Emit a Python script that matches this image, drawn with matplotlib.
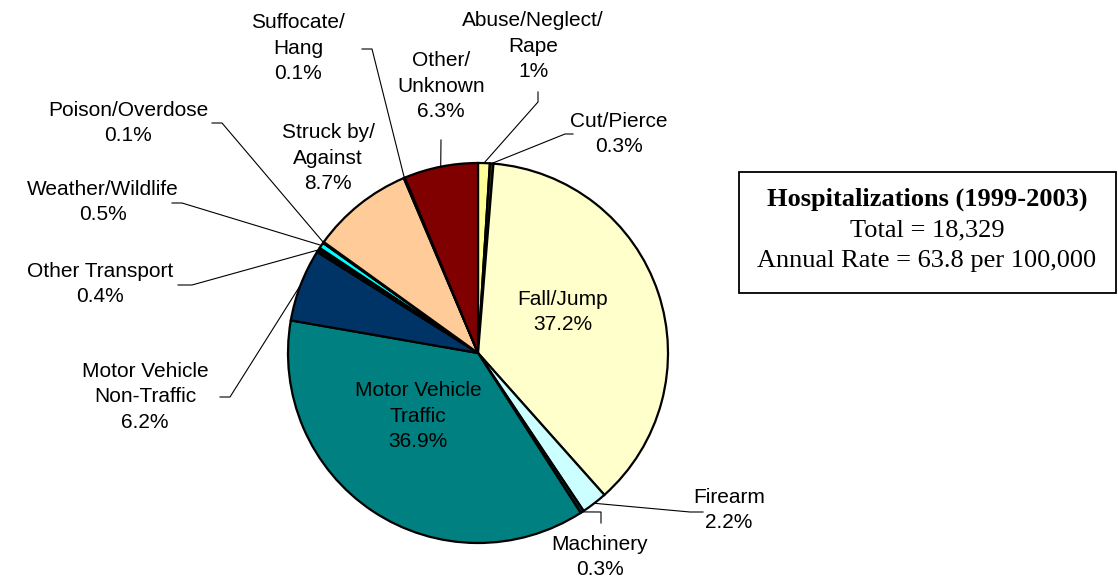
import numpy as np
import matplotlib
matplotlib.use('Agg')
import matplotlib.pyplot as plt
from matplotlib.patches import Rectangle

# data (clockwise from 12 o'clock)
categories = ['Abuse/Neglect/\nRape', 'Cut/Pierce', 'Fall/Jump', 'Firearm', 'Machinery',
              'Motor Vehicle\nTraffic', 'Motor Vehicle\nNon-Traffic', 'Other Transport',
              'Weather/Wildlife', 'Poison/Overdose', 'Struck by/\nAgainst', 'Suffocate/\nHang',
              'Other/\nUnknown']
percents = [1, 0.3, 37.2, 2.2, 0.3, 36.9, 6.2, 0.4, 0.5, 0.1, 8.7, 0.1, 6.3]
pct_labels = ['1%', '0.3%', '37.2%', '2.2%', '0.3%', '36.9%', '6.2%', '0.4%',
              '0.5%', '0.1%', '8.7%', '0.1%', '6.3%']
colors = ['#FFFF99', '#333300', '#FFFFCC', '#CCFFFF', '#003333', '#008080', '#003366',
          '#000000', '#00FFFF', '#996600', '#FFCC99', '#993300', '#800000']

W, H = 1118, 581
fig = plt.figure(figsize=(W / 100, H / 100), dpi=100)
ax = fig.add_axes([0, 0, 1, 1])

cx, cy, R = 478, H - 353, 190
ax.pie(percents, colors=colors, startangle=90, counterclock=False,
       center=(cx, cy), radius=R,
       wedgeprops=dict(edgecolor='black', linewidth=1.6))
ax.set_xlim(0, W)
ax.set_ylim(0, H)
ax.set_aspect('equal')
ax.axis('off')

def Y(y):
    return H - y

# label text position (pixel coords) and leader line bends, None = no leader
label_pos = [(533, 46), (619, 134), (563, 312), (729, 510), (600, 557),
             (418, 416), (145, 397), (100, 284), (103, 202), (128, 123),
             (328, 158), (298, 48), (441, 86)]
leaders = [[(538, 92), (538, 102)], [(573, 134), (565, 134)], None,
           [(703, 512), (690, 512)], [(601, 523), (601, 512)], None,
           [(220, 397), (230, 397)], [(178, 285), (192, 285)],
           [(172, 203), (182, 203)], [(212, 123), (222, 123)], None,
           [(362, 49), (372, 49)], [(441, 140)]]

total = sum(percents)
cum = np.cumsum([0] + percents)
font = ['Liberation Sans', 'DejaVu Sans']
for i, name in enumerate(categories):
    x, y = label_pos[i]
    ax.text(x, Y(y), name + '\n' + pct_labels[i], ha='center', va='center',
            fontsize=15, family=font, linespacing=1.42)
    if leaders[i] is not None:
        mid = (cum[i] + cum[i + 1]) / 2 / total * 360
        ang = np.deg2rad(90 - mid)
        ax_x = cx + R * np.cos(ang)
        ax_y = cy + R * np.sin(ang)
        xs = [p[0] for p in leaders[i]] + [ax_x]
        ys = [Y(p[1]) for p in leaders[i]] + [ax_y]
        ax.plot(xs, ys, color='black', linewidth=0.8)

# info box
ax.add_patch(Rectangle((739, Y(293)), 1116 - 739, 293 - 172, facecolor='white',
                       edgecolor='black', linewidth=1.3))
serif = ['Liberation Serif', 'DejaVu Serif']
ax.text(927, Y(199), 'Hospitalizations (1999-2003)', ha='center', va='center',
        fontsize=19, family=serif, fontweight='bold')
ax.text(927, Y(230), 'Total = 18,329', ha='center', va='center',
        fontsize=19, family=serif)
ax.text(927, Y(261), 'Annual Rate = 63.8 per 100,000', ha='center', va='center',
        fontsize=19, family=serif)

fig.savefig('out.png', dpi=100)
